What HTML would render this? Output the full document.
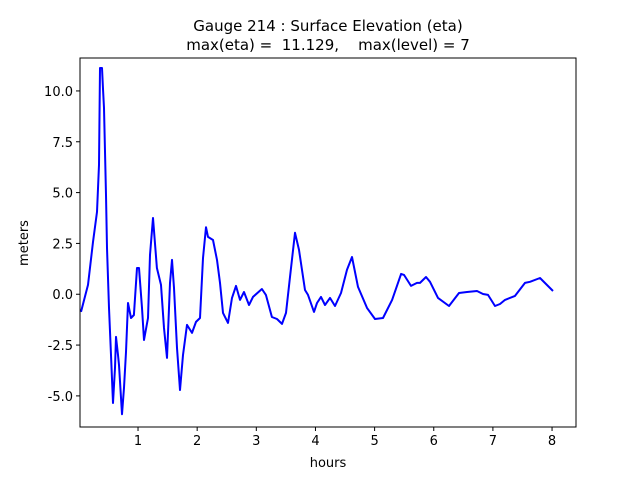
<!DOCTYPE html>
<html><head><meta charset="utf-8"><style>
body{margin:0;background:#fff;}
svg{display:block;font-family:"DejaVu Sans","Liberation Sans",sans-serif;}
</style></head><body>
<svg id="chart" width="640" height="480">
<rect width="640" height="480" fill="#fff"/>
<text x="328" y="31" text-anchor="middle" font-size="15">Gauge 214 : Surface Elevation (eta)</text>
<text x="328" y="50" text-anchor="middle" font-size="15" xml:space="preserve">max(eta) =  11.129,    max(level) = 7</text>
<g id="ticks"></g>
<path id="series" fill="none" stroke="#0000ff" stroke-width="2" stroke-linejoin="round"/>
<rect x="80" y="58" width="496" height="369" fill="none" stroke="#000" stroke-width="1"/>
<text x="328" y="467" text-anchor="middle" font-size="13">hours</text>
<text transform="translate(28,243) rotate(-90)" text-anchor="middle" font-size="13">meters</text>
</svg>
<script>
const hours=[0.036,0.154,0.238,0.306,0.340,0.357,0.391,0.408,0.425,0.458,0.475,0.509,0.543,0.577,0.610,0.627,0.661,0.678,0.729,0.763,0.796,0.830,0.881,0.931,0.982,1.016,1.067,1.101,1.168,1.202,1.253,1.320,1.388,1.439,1.490,1.541,1.574,1.608,1.659,1.710,1.761,1.828,1.913,1.980,2.048,2.098,2.149,2.183,2.268,2.335,2.386,2.437,2.521,2.589,2.657,2.724,2.792,2.876,2.944,3.094,3.162,3.264,3.349,3.434,3.502,3.570,3.654,3.722,3.823,3.874,3.975,4.026,4.094,4.162,4.246,4.331,4.432,4.533,4.618,4.720,4.872,5.007,5.142,5.296,5.448,5.497,5.616,5.717,5.768,5.869,5.937,6.072,6.258,6.427,6.562,6.731,6.833,6.917,7.036,7.120,7.205,7.374,7.543,7.627,7.796,8.016];
const eta=[-0.87,0.46,2.57,4.05,6.36,11.13,11.13,10.1,9.16,4.88,2.28,-0.67,-2.99,-5.35,-3.62,-2.10,-2.99,-3.48,-5.9,-4.6,-2.84,-0.43,-1.17,-1.02,1.29,1.29,-0.67,-2.25,-1.17,1.93,3.75,1.29,0.46,-1.66,-3.13,0.56,1.69,0.31,-2.64,-4.71,-2.99,-1.51,-1.90,-1.36,-1.17,1.78,3.30,2.82,2.67,1.69,0.56,-0.92,-1.41,-0.18,0.41,-0.28,0.11,-0.53,-0.13,0.26,-0.03,-1.12,-1.22,-1.46,-0.92,0.85,3.02,2.18,0.21,-0.03,-0.87,-0.43,-0.13,-0.53,-0.18,-0.58,0.06,1.20,1.83,0.36,-0.67,-1.22,-1.17,-0.28,1.00,0.95,0.41,0.56,0.56,0.85,0.61,-0.18,-0.58,0.06,0.11,0.16,0.01,-0.03,-0.58,-0.48,-0.28,-0.08,0.56,0.61,0.80,0.16];
const xTicks=[1,2,3,4,5,6,7,8];
const yTicks=[-5.0,-2.5,0.0,2.5,5.0,7.5,10.0];
const L=80,T=58,W=496,H=369,xMin=0.019,xMax=8.405,yMin=-6.53,yMax=11.62;
const sx=v=>L+(v-xMin)/(xMax-xMin)*W;
const sy=v=>T+(yMax-v)/(yMax-yMin)*H;
const NS='http://www.w3.org/2000/svg';
const g=document.getElementById('ticks');
xTicks.forEach(t=>{
  const l=document.createElementNS(NS,'line');
  l.setAttribute('x1',sx(t));l.setAttribute('x2',sx(t));l.setAttribute('y1',T+H);l.setAttribute('y2',T+H+4);l.setAttribute('stroke','#000');
  
  
  g.appendChild(l);
  const tx=document.createElementNS(NS,'text');
  tx.setAttribute('x',sx(t));tx.setAttribute('y',T+H+18);tx.setAttribute('text-anchor','middle');tx.setAttribute('font-size','13');
  tx.textContent=String(t);
  
  
  g.appendChild(tx);
});
yTicks.forEach(t=>{
  const l=document.createElementNS(NS,'line');
  l.setAttribute('x1',L-4);l.setAttribute('x2',L);l.setAttribute('y1',sy(t));l.setAttribute('y2',sy(t));l.setAttribute('stroke','#000');
  
  
  g.appendChild(l);
  const tx=document.createElementNS(NS,'text');
  tx.setAttribute('x',L-7);tx.setAttribute('y',sy(t)+5);tx.setAttribute('text-anchor','end');tx.setAttribute('font-size','13');
  tx.textContent=t.toFixed(1);
  
  
  g.appendChild(tx);
});
document.getElementById('series').setAttribute('d',hours.map((h,i)=>(i?'L':'M')+sx(h).toFixed(1)+','+sy(eta[i]).toFixed(1)).join(''));
</script>
</body></html>
